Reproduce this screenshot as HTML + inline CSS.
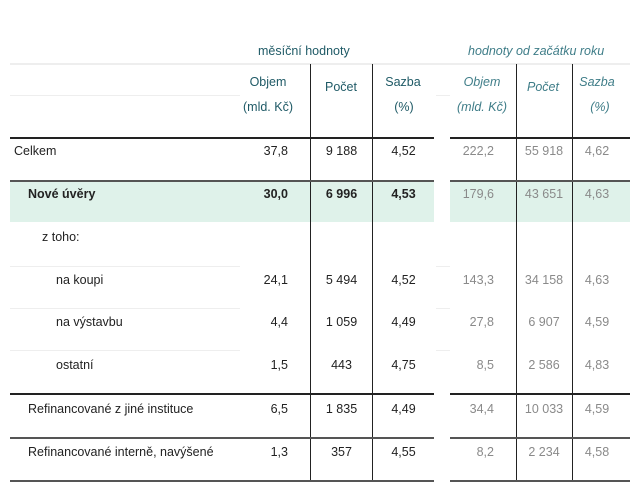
<!DOCTYPE html>
<html><head><meta charset="utf-8"><style>
body{margin:0;width:640px;height:489px;background:#fff;position:relative;overflow:hidden;font-family:"Liberation Sans",sans-serif;font-size:12.5px;color:#222}
.a{position:absolute;white-space:nowrap}
.h{color:#1f5a66}
.i{font-style:italic;color:#3f7d88}
.g{color:#8a8a8a}
.ln{position:absolute}
</style></head><body>
<div class="a h" style="left:258px;top:44px">měsíční hodnoty</div>
<div class="a i" style="left:468px;top:44px">hodnoty od začátku roku</div>
<div class="ln" style="left:10px;top:63px;width:620px;height:2px;background:#eee"></div>
<div class="ln" style="left:10px;top:95px;width:230px;height:1px;background:#eee"></div>
<div class="ln" style="left:436px;top:95px;width:14px;height:1px;background:#eee"></div>
<div id="t"></div>
<script>
const rows=["Celkem","Nové úvěry","z toho:","na koupi","na výstavbu","ostatní","Refinancované z jiné instituce","Refinancované interně, navýšené"];
const objem=["37,8","30,0","","24,1","4,4","1,5","6,5","1,3"];
const pocet=["9 188","6 996","","5 494","1 059","443","1 835","357"];
const sazba=["4,52","4,53","","4,52","4,49","4,75","4,49","4,55"];
const objemY=["222,2","179,6","","143,3","27,8","8,5","34,4","8,2"];
const pocetY=["55 918","43 651","","34 158","6 907","2 586","10 033","2 234"];
const sazbaY=["4,62","4,63","","4,63","4,59","4,83","4,59","4,58"];
const t=document.getElementById('t');
function add(cls,style,txt,name){const d=document.createElement('div');d.className=cls;d.style.cssText=style;if(txt!==undefined)d.textContent=txt;


t.appendChild(d);return d;}
add('ln','left:10px;top:181px;width:424px;height:41px;background:#dff2ea','', 'highlight-left');
add('ln','left:450px;top:181px;width:180px;height:41px;background:#dff2ea','', 'highlight-right');
[310,372,516,572].forEach(x=>add('ln',`left:${x}px;top:64px;width:1px;height:417px;background:#222`,'','col-divider'));
const hl=[[137,'#222',1.5],[180,'#555',1.5],[393,'#222',1.5],[437,'#555',1.5],[480,'#555',1.5]];
hl.forEach(([y,c,h])=>{add('ln',`left:10px;top:${y}px;width:424px;height:${h}px;background:${c}`,'','row-rule');add('ln',`left:450px;top:${y}px;width:180px;height:${h}px;background:${c}`,'','row-rule');});
[266,308,350].forEach(y=>{add('ln',`left:10px;top:${y}px;width:230px;height:1px;background:#eee`,'','row-sep');add('ln',`left:436px;top:${y}px;width:14px;height:1px;background:#eee`,'','row-sep');});
const hd=[[268,83,'Objem'],[268,108,'(mld. Kč)'],[341,88,'Počet'],[403,83,'Sazba'],[404,108,'(%)']];
hd.forEach(([x,y,s])=>add('a h',`left:${x-40}px;width:80px;text-align:center;top:${y-8}px`,s,'column-header'));
const hd2=[[482,83,'Objem'],[482,108,'(mld. Kč)'],[543,88,'Počet'],[597,83,'Sazba'],[600,108,'(%)']];
hd2.forEach(([x,y,s])=>add('a i',`left:${x-40}px;width:80px;text-align:center;top:${y-8}px`,s,'ytd-column-header'));
const ys=[152,195,238,281,323,366,410,453];
const ind=[14,28,42,56,56,56,28,28];
rows.forEach((r,i)=>{
 const y=ys[i]-8, b=i==1?'font-weight:bold;':'';
 add('a',`left:${ind[i]}px;top:${y}px;${b}`,r,'row-label');
 add('a',`left:228px;width:60px;text-align:right;top:${y}px;${b}`,objem[i],'objem-value');
 add('a',`left:311px;width:61px;text-align:center;top:${y}px;${b}`,pocet[i],'pocet-value');
 add('a',`left:373px;width:61px;text-align:center;top:${y}px;${b}`,sazba[i],'sazba-value');
 add('a g',`left:434px;width:60px;text-align:right;top:${y}px`,objemY[i],'ytd-objem-value');
 add('a g',`left:516px;width:56px;text-align:center;top:${y}px`,pocetY[i],'ytd-pocet-value');
 add('a g',`left:572px;width:50px;text-align:center;top:${y}px`,sazbaY[i],'ytd-sazba-value');
});
</script>
</body></html>
